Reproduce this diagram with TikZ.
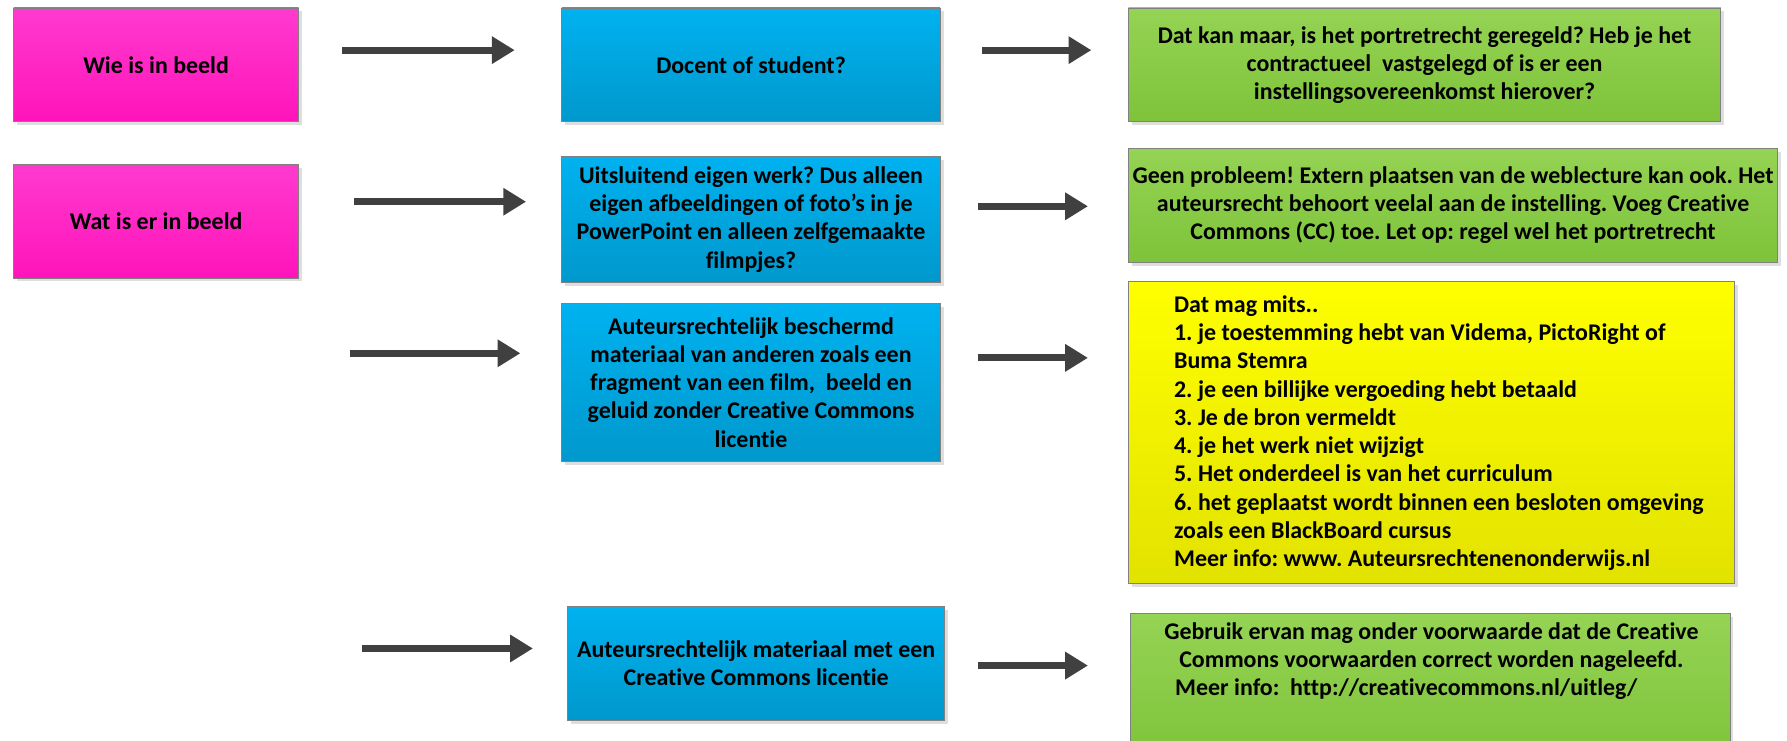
\documentclass[tikz,border=0pt]{standalone}
\usepackage{fontspec}
\setmainfont{Carlito}[Ligatures=NoCommon]
\usetikzlibrary{arrows.meta,shadows}
\frenchspacing
\definecolor{pinkT}{HTML}{FF3ACF}
\definecolor{pinkB}{HTML}{FF14BA}
\definecolor{blueT}{HTML}{00B2F0}
\definecolor{blueB}{HTML}{0098CC}
\definecolor{greenT}{HTML}{95D354}
\definecolor{greenB}{HTML}{7EC33A}
\definecolor{yelT}{HTML}{FFFF00}
\definecolor{yelB}{HTML}{E2E200}
\definecolor{arrc}{HTML}{404040}
\definecolor{bord}{HTML}{808080}
\tikzset{
  txt/.style={font=\bfseries\fontsize{21}{24.8}\selectfont\frenchspacing, text=black, inner sep=0pt},
  box/.style={txt, draw=bord, line width=0.8pt, align=center,
    drop shadow={shadow xshift=3pt, shadow yshift=-3pt, fill=black!13, opacity=1}},
  pinkbox/.style={box, top color=pinkT, bottom color=pinkB},
  bluebox/.style={box, top color=blueT, bottom color=blueB},
  greenbox/.style={box, top color=greenT, bottom color=greenB},
  yelbox/.style={box, top color=yelT, bottom color=yelB},
  arr/.style={draw=arrc, line width=6pt, -{Triangle[length=20pt,width=23pt]}},
}
\begin{document}
\begin{tikzpicture}[x=1pt,y=-1pt]
\useasboundingbox (0,0) rectangle (1568,650);
\clip (0,0) rectangle (1568,650);

% left column
\node[pinkbox, minimum width=250pt, minimum height=100pt] (p1) at (137,57) {Wie is in beeld};
\node[pinkbox, minimum width=250pt, minimum height=100pt] (p2) at (137,194) {Wat is er in beeld};

% middle column
\node[bluebox, minimum width=332pt, minimum height=100pt] (b1) at (659,57) {Docent of student?};
\node[bluebox, minimum width=332pt, minimum height=111pt] (b2) at (659,192.5)
  {Uitsluitend eigen werk? Dus alleen\\eigen afbeeldingen of foto’s in je\\PowerPoint en alleen zelfgemaakte\\filmpjes?};
\node[bluebox, minimum width=332pt, minimum height=139pt] (b3) at (659,335.5)
  {Auteursrechtelijk beschermd\\materiaal van anderen zoals een\\fragment van een film,\ \ beeld en\\geluid zonder Creative Commons\\licentie};
\node[bluebox, minimum width=331pt, minimum height=100pt] (b4) at (663.5,582)
  {Auteursrechtelijk materiaal met een\\Creative Commons licentie};

% right column
\node[greenbox, minimum width=520pt, minimum height=100pt] (g1) at (1250,57)
  {Dat kan maar, is het portretrecht geregeld? Heb je het\\contractueel\ \ vastgelegd of is er een\\instellingsovereenkomst hierover?};
\node[greenbox, minimum width=570pt, minimum height=100pt] (g2) at (1275,180)
  {Geen probleem! Extern plaatsen van de weblecture kan ook. Het\\auteursrecht behoort veelal aan de instelling. Voeg Creative\\Commons (CC) toe. Let op: regel wel het portretrecht};
\node[yelbox, minimum width=532pt, minimum height=265pt] (y1) at (1256,379.5) {};
\node[txt, align=left, anchor=west] (ytext) at (1030,380)
  {Dat mag mits..\\
   1. je toestemming hebt van Videma, PictoRight of\\
   Buma Stemra\\
   2. je een billijke vergoeding hebt betaald\\
   3. Je de bron vermeldt\\
   4. je het werk niet wijzigt\\
   5. Het onderdeel is van het curriculum\\
   6. het geplaatst wordt binnen een besloten omgeving\\
   zoals een BlackBoard cursus\\
   Meer info: www. Auteursrechtenenonderwijs.nl};
\node[greenbox, minimum width=526pt, minimum height=130pt] (g3) at (1255,603) {};
\node[txt, align=center] (g3text) at (1256,580)
  {Gebruik ervan mag onder voorwaarde dat de Creative\\
   Commons voorwaarden correct worden nageleefd.\\
   Meer info:\ \ http://creativecommons.nl/uitleg/\hspace*{44pt}};

% arrow start points
\coordinate (s1) at (300,44);
\coordinate (s2) at (311,177);
\coordinate (s3) at (307,310);
\coordinate (s4) at (318,569);
\coordinate (t1) at (862,44);
\coordinate (t2) at (858,181);
\coordinate (t3) at (858,314);
\coordinate (t4) at (858,584);

\draw[arr, shorten >=41pt] (s1) -- (s1 -| b1.west);
\draw[arr, shorten >=31pt] (s2) -- (s2 -| b2.west);
\draw[arr, shorten >=36pt] (s3) -- (s3 -| b3.west);
\draw[arr, shorten >=30pt] (s4) -- (s4 -| b4.west);
\draw[arr, shorten >=32pt] (t1) -- (t1 -| g1.west);
\draw[arr, shorten >=35pt] (t2) -- (t2 -| g2.west);
\draw[arr, shorten >=35pt] (t3) -- (t3 -| y1.west);
\draw[arr, shorten >=37pt] (t4) -- (t4 -| g3.west);
\end{tikzpicture}
\end{document}
